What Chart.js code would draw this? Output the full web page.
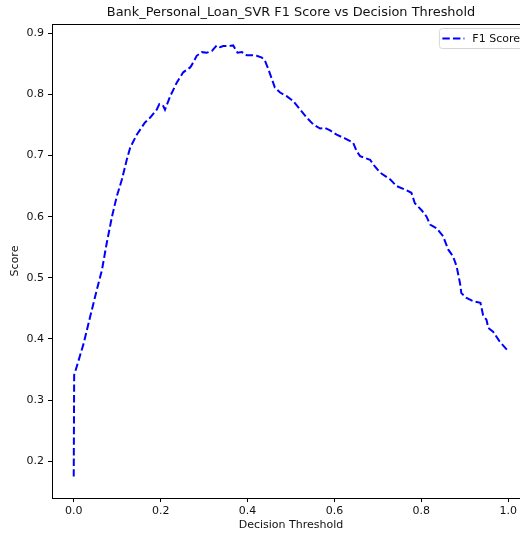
<!DOCTYPE html>
<html>
<head>
<meta charset="utf-8">
<script src="https://cdn.jsdelivr.net/npm/chart.js@4.4.1/dist/chart.umd.min.js"></script>
<style>
    html, body { margin: 0; padding: 0; background: #fff; overflow: hidden; }
    #wrap { width: 545px; height: 535px; }
</style>
</head>
<body>
<div id="wrap"><canvas id="f1Chart"></canvas></div>
<script>
// Data
const thresholds = [0, 0.001, 0.007, 0.023, 0.038, 0.053, 0.065, 0.076, 0.088, 0.099,
    0.111, 0.122, 0.130, 0.145, 0.164, 0.176, 0.191, 0.197, 0.206, 0.210,
    0.222, 0.237, 0.252, 0.268, 0.275, 0.283, 0.295, 0.306, 0.318, 0.329,
    0.337, 0.344, 0.356, 0.367, 0.377, 0.387, 0.398, 0.410, 0.421, 0.433,
    0.440, 0.448, 0.456, 0.463, 0.475, 0.490, 0.505, 0.521, 0.536, 0.551,
    0.567, 0.578, 0.590, 0.605, 0.624, 0.643, 0.651, 0.659, 0.682, 0.693,
    0.705, 0.728, 0.743, 0.766, 0.777, 0.785, 0.800, 0.812, 0.820, 0.835,
    0.850, 0.862, 0.873, 0.881, 0.889, 0.892, 0.904, 0.919, 0.936, 0.942,
    0.950, 0.954, 0.965, 0.980, 1.0];
const f1Scores = [0.175, 0.341, 0.355, 0.393, 0.437, 0.480, 0.513, 0.557, 0.600, 0.633,
    0.661, 0.693, 0.713, 0.734, 0.754, 0.762, 0.775, 0.784, 0.781, 0.775,
    0.797, 0.819, 0.836, 0.844, 0.852, 0.863, 0.869, 0.868, 0.871, 0.880,
    0.877, 0.879, 0.879, 0.880, 0.868, 0.869, 0.864, 0.864, 0.863, 0.860,
    0.855, 0.841, 0.825, 0.811, 0.803, 0.797, 0.789, 0.775, 0.762, 0.751,
    0.744, 0.745, 0.741, 0.734, 0.728, 0.721, 0.707, 0.699, 0.693, 0.682,
    0.672, 0.661, 0.650, 0.643, 0.639, 0.622, 0.611, 0.600, 0.587, 0.581,
    0.568, 0.546, 0.535, 0.519, 0.491, 0.475, 0.467, 0.462, 0.459, 0.439,
    0.431, 0.418, 0.412, 0.396, 0.380];
const xTicks = [0.0, 0.2, 0.4, 0.6, 0.8, 1.0];
const yTicks = [0.2, 0.3, 0.4, 0.5, 0.6, 0.7, 0.8, 0.9];

const chartTitle = 'Bank_Personal_Loan_SVR F1 Score vs Decision Threshold';
const FONT = '"DejaVu Sans", sans-serif';
const TEXT = '#111';

// Frame, title and legend drawn matplotlib-style
const mplDecor = {
    id: 'mplDecor',
    afterDraw(chart) {
        const { ctx, chartArea: a } = chart;
        ctx.save();
        ctx.strokeStyle = '#000';
        ctx.lineWidth = 1;
        ctx.setLineDash([]);
        ctx.strokeRect(Math.round(a.left) + 0.5, Math.round(a.top) + 0.5,
            Math.round(a.right - a.left), Math.round(a.bottom - a.top));

        // title
        ctx.fillStyle = TEXT;
        ctx.font = '12.9px ' + FONT;
        ctx.textAlign = 'center';
        ctx.textBaseline = 'middle';
        ctx.fillText(chartTitle, (a.left + a.right) / 2, 12.5);

        // legend (upper right)
        const ds = chart.data.datasets[0];
        ctx.font = '11px ' + FONT;
        const tw = ctx.measureText(ds.label).width;
        const bw = 3 + 22 + 8 + tw + 6;
        const bx = a.right - 4 - bw, by = a.top + 4.5, bh = 20;
        ctx.beginPath();
        ctx.roundRect(bx, by, bw, bh, 3);
        ctx.fillStyle = 'rgba(255,255,255,0.8)';
        ctx.fill();
        ctx.strokeStyle = '#d6d6d6';
        ctx.lineWidth = 1;
        ctx.stroke();
        ctx.beginPath();
        ctx.setLineDash(ds.borderDash);
        ctx.strokeStyle = ds.borderColor;
        ctx.lineWidth = ds.borderWidth;
        ctx.moveTo(bx + 3, by + bh / 2);
        ctx.lineTo(bx + 25, by + bh / 2);
        ctx.stroke();
        ctx.setLineDash([]);
        ctx.fillStyle = TEXT;
        ctx.textAlign = 'left';
        ctx.fillText(ds.label, bx + 33, by + bh / 2 + 0.5);
        ctx.restore();
    }
};

const tickFont = { family: FONT, size: 11 };

new Chart(document.getElementById('f1Chart'), {
    type: 'line',
    data: {
        datasets: [{
            label: 'F1 Score',
            data: thresholds.map((t, i) => ({ x: t, y: f1Scores[i] })),
            borderColor: '#0000ff',
            borderWidth: 2,
            borderDash: [7.4, 3.2],
            pointRadius: 0,
            tension: 0,
            fill: false
        }]
    },
    options: {
        responsive: true,
        maintainAspectRatio: false,
        animation: false,
        layout: { padding: { top: 24, left: 9, right: 15, bottom: 3 } },
        plugins: {
            legend: { display: false },
            title: { display: false },
            tooltip: { enabled: false }
        },
        scales: {
            x: {
                type: 'linear',
                min: -0.05, max: 1.05,
                afterBuildTicks: s => { s.ticks = xTicks.map(v => ({ value: v })); },
                afterFit: s => { s.height = 34; },
                grid: { drawOnChartArea: false, drawTicks: true, tickLength: 4, tickColor: '#000' },
                border: { display: false },
                ticks: { font: tickFont, color: TEXT, padding: 3, maxRotation: 0,
                    callback: v => v.toFixed(1) },
                title: { display: true, text: 'Decision Threshold', font: tickFont, color: TEXT, padding: 0 }
            },
            y: {
                min: 0.14, max: 0.915,
                afterBuildTicks: s => { s.ticks = yTicks.map(v => ({ value: v })); },
                afterFit: s => { s.width = 43; },
                grid: { drawOnChartArea: false, drawTicks: true, tickLength: 4, tickColor: '#000' },
                border: { display: false },
                ticks: { font: tickFont, color: TEXT, padding: 4,
                    callback: v => v.toFixed(1) },
                title: { display: true, text: 'Score', font: tickFont, color: TEXT, padding: 0 }
            }
        }
    },
    plugins: [mplDecor]
});
</script>
</body>
</html>
